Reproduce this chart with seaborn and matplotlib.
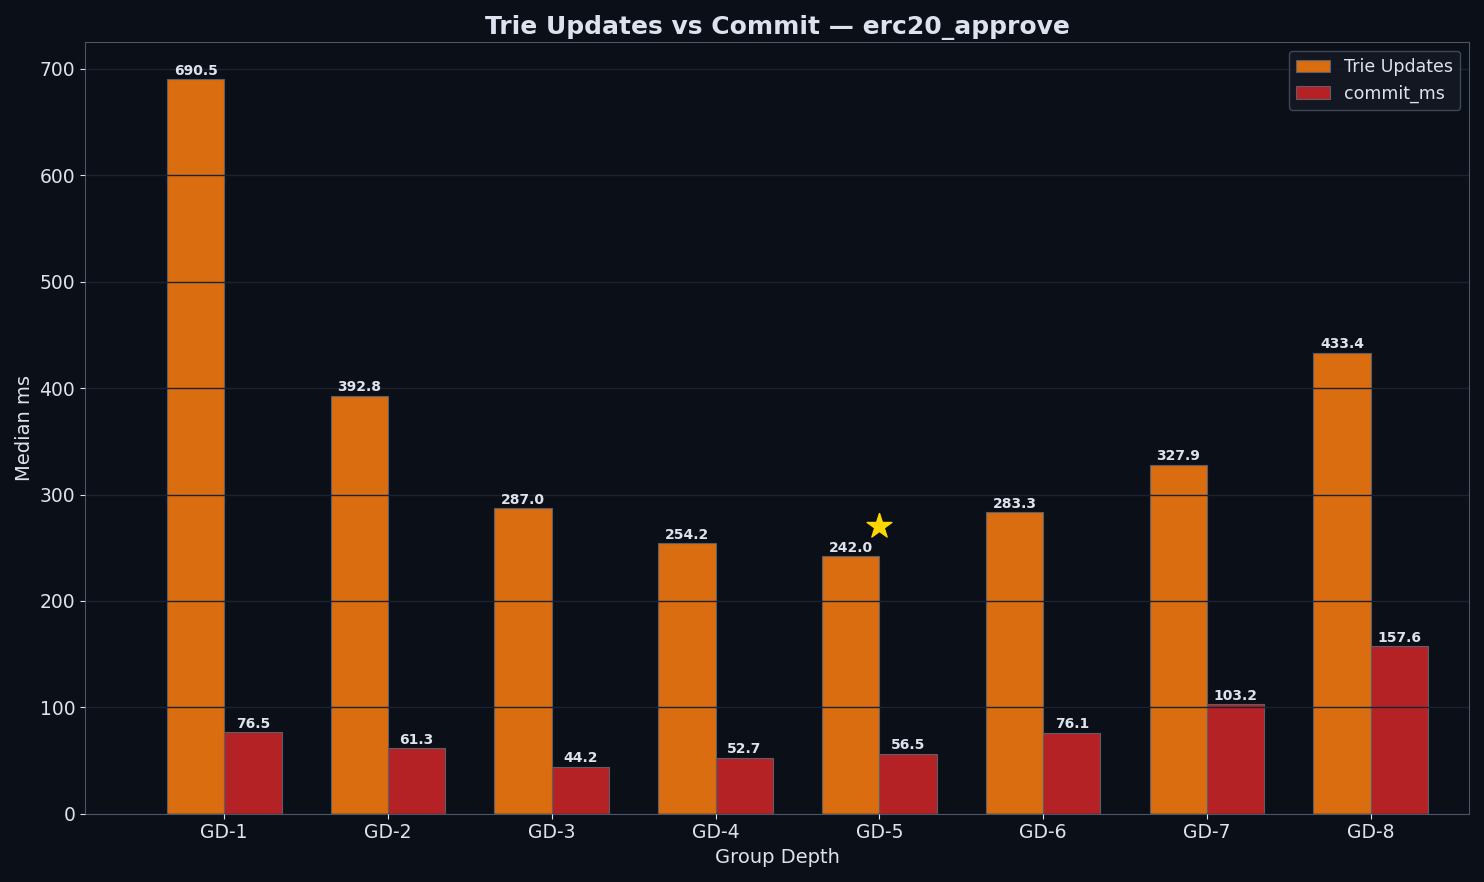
import pandas as pd
import seaborn as sns
import matplotlib.pyplot as plt

groups = ['GD-1', 'GD-2', 'GD-3', 'GD-4', 'GD-5', 'GD-6', 'GD-7', 'GD-8']
trie_updates = [690.5, 392.8, 287.0, 254.2, 242.0, 283.3, 327.9, 433.4]
commit_ms = [76.5, 61.3, 44.2, 52.7, 56.5, 76.1, 103.2, 157.6]
best_group = 'GD-5'

bg = '#0b0f17'
fg = '#dde3ee'

df = pd.DataFrame({
    'group': groups * 2,
    'value': trie_updates + commit_ms,
    'metric': ['Trie Updates'] * len(groups) + ['commit_ms'] * len(groups),
})

fig, ax = plt.subplots(figsize=(14.84, 8.82), dpi=100)
fig.patch.set_facecolor(bg)
ax.set_facecolor(bg)

sns.barplot(data=df, x='group', y='value', hue='metric', ax=ax,
            palette=['#d96d10', '#b52226'], saturation=1, width=0.7,
            edgecolor='#5a5f6a', linewidth=0.8, errorbar=None)

for cont in ax.containers:
    ax.bar_label(cont, fmt='%.1f', color=fg, fontsize=10, fontweight='bold', padding=1)

# star above best group
bi = groups.index(best_group)
ax.scatter(bi, trie_updates[bi] + 28, marker='*', s=350, color='#ffd700', zorder=5)

ax.set_ylim(0, 725)
ax.set_xlim(-0.85, 7.6)
ax.grid(axis='y', color='#1c2230', linewidth=1)
ax.set_axisbelow(False)
for s in ax.spines.values():
    s.set_color('#4a5568')
ax.tick_params(colors=fg, labelsize=13.5)
ax.set_title('Trie Updates vs Commit — erc20_approve', color=fg, fontsize=18, fontweight='bold')
ax.set_xlabel('Group Depth', color=fg, fontsize=14)
ax.set_ylabel('Median ms', color=fg, fontsize=14)

leg = ax.legend(loc='upper right', fontsize=12.5, facecolor='#141a26', edgecolor='#4a5568')
for t in leg.get_texts():
    t.set_color(fg)

plt.tight_layout()
plt.savefig('out.png', facecolor=bg)
